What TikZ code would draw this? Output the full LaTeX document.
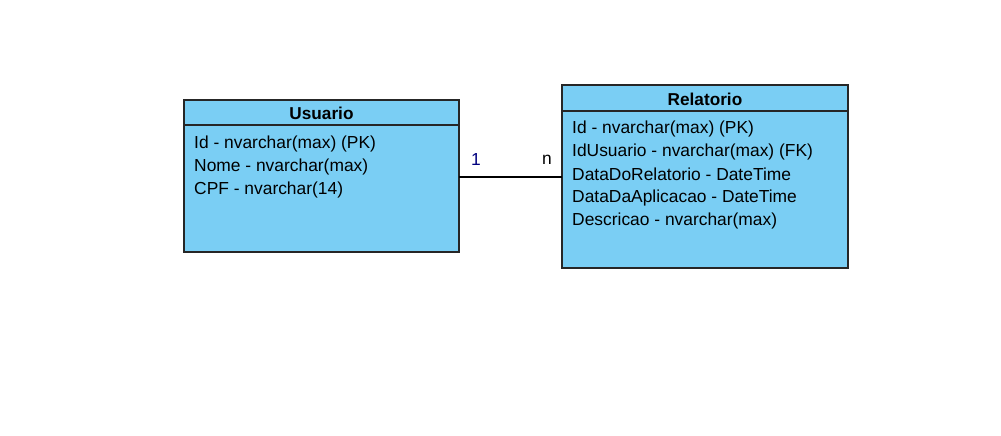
\documentclass[tikz,border=0pt]{standalone}
\usepackage{fontspec}
\setmainfont{Liberation Sans}
\definecolor{boxfill}{HTML}{7ACEF4}
\definecolor{lbl}{HTML}{00007F}
\begin{document}
\begin{tikzpicture}[x=1pt,y=-1pt,
  ent/.style={draw=black!85,line width=1.2pt,fill=boxfill},
  hdr/.style={font=\fontsize{17.2}{18}\selectfont\bfseries,anchor=center},
  row/.style={font=\fontsize{17.4}{18}\selectfont,anchor=west,inner sep=0pt},
  conn/.style={draw=black,line width=1.1pt}]
\useasboundingbox (0,0) rectangle (1001,436);
\fill[white] (0,0) rectangle (1001,436);
% Usuario
\draw[ent] (184,100) rectangle (459,252);
\draw[draw=black!85,line width=1.2pt] (184,125) -- (459,125);
\node[hdr] (uh) at (321.5,113) {Usuario};
\node[row] (u1) at (194,143.5) {Id - nvarchar(max) (PK)};
\node[row] (u2) at (194,166.5) {Nome - nvarchar(max)};
\node[row] (u3) at (194,189.5) {CPF - nvarchar(14)};
\coordinate (ur) at (459,177);
% Relatorio
\draw[ent] (562,85) rectangle (848,268);
\draw[draw=black!85,line width=1.2pt] (562,111) -- (848,111);
\node[hdr] (rh) at (705,99) {Relatorio};
\node[row] (r1) at (572,128.5) {Id - nvarchar(max) (PK)};
\node[row] (r2) at (572,151.5) {IdUsuario - nvarchar(max) (FK)};
\node[row] (r3) at (572,174.5) {DataDoRelatorio - DateTime};
\node[row] (r4) at (572,197.5) {DataDaAplicacao - DateTime};
\node[row] (r5) at (572,220.5) {Descricao - nvarchar(max)};
\coordinate (rl) at (562,177);
% connector
\draw[conn] (ur) -- (rl);
\node[font=\fontsize{17.4}{18}\selectfont,text=lbl,inner sep=0pt] (one) at (476,160) {1};
\node[font=\fontsize{17.4}{18}\selectfont,text=black,inner sep=0pt] (n) at (547,160) {n};
\end{tikzpicture}
\end{document}
